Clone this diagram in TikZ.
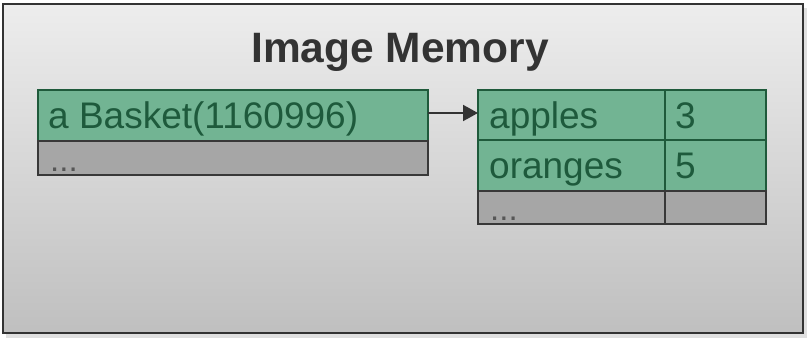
\documentclass[tikz,border=0pt]{standalone}
\usepackage{fontspec}
\setmainfont{Liberation Sans}
\usetikzlibrary{arrows.meta}
\definecolor{cellgreen}{HTML}{72B493}
\definecolor{cellline}{HTML}{1F5A3B}
\definecolor{celltext}{HTML}{1E5A3C}
\definecolor{graycell}{HTML}{A6A6A6}
\definecolor{grayline}{HTML}{383838}
\definecolor{frameline}{HTML}{333333}
\tikzset{
  greencell/.style={draw=cellline, fill=cellgreen, line width=2pt},
  graycellbox/.style={draw=grayline, fill=graycell, line width=2pt},
  celllabel/.style={anchor=base west, text=celltext, font=\fontsize{37}{40}\selectfont, inner sep=0pt},
  dotslabel/.style={anchor=base west, text=grayline!85, font=\fontsize{33}{36}\selectfont, inner sep=0pt},
}
\begin{document}
\begin{tikzpicture}[x=1pt,y=-1pt]
\useasboundingbox (0,0) rectangle (807,340);
% soft drop shadow and the memory frame
\fill[black!12] (6,8) rectangle (807,338);
\shade[top color=white!93!black, bottom color=white!75!black] (3,4) rectangle (803,333);
\draw[frameline, line width=2.5pt] (3,4) rectangle (803,333);
\node[anchor=base, font=\bfseries\fontsize{42.5}{46}\selectfont, text=black!80, inner sep=0pt] (title) at (400,63) {Image Memory};

% the object record on the left
\draw[greencell] (38,90) rectangle (428,141);
\draw[graycellbox] (38,141) rectangle (428,175);
\coordinate (objout) at (428,113);
\node[celllabel] (objname) at (48,128) {a Basket(1160996)};
\node[dotslabel] (objdots) at (50,171) {...};

% the dictionary table on the right
\draw[greencell] (478,90) rectangle (665,140);
\draw[greencell] (665,90) rectangle (766,140);
\draw[greencell] (478,140) rectangle (665,191);
\draw[greencell] (665,140) rectangle (766,191);
\draw[graycellbox] (478,191) rectangle (665,224);
\draw[graycellbox] (665,191) rectangle (766,224);
\coordinate (tabin) at (478,113);
\node[celllabel] (k1) at (489,128) {apples};
\node[celllabel] (v1) at (675,128) {3};
\node[celllabel] (k2) at (489,178) {oranges};
\node[celllabel] (v2) at (675,178) {5};
\node[dotslabel] (tabdots) at (490,220) {...};

% reference from the object to the table
\draw[-{Triangle[length=15pt,width=16pt]}, line width=2pt, frameline] (objout) -- (tabin);
\end{tikzpicture}
\end{document}
